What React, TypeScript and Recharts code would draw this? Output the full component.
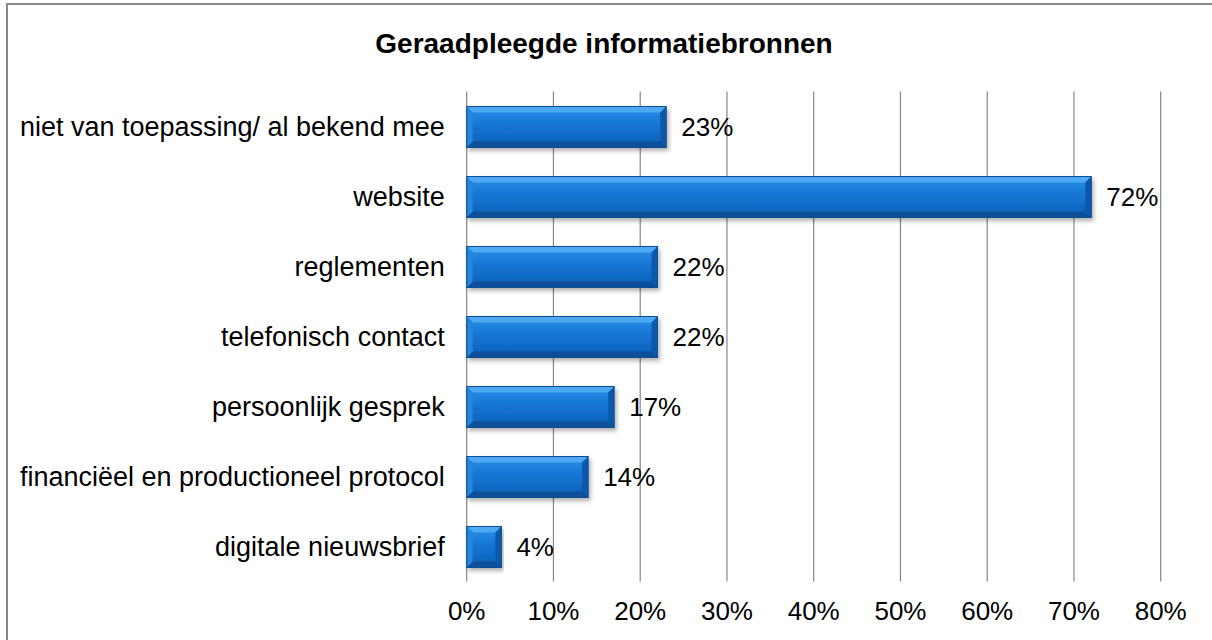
import React from "react";
import { BarChart, Bar, XAxis, YAxis, CartesianGrid, LabelList } from "recharts";

const categories = [
  "niet van toepassing/ al bekend mee",
  "website",
  "reglementen",
  "telefonisch contact",
  "persoonlijk gesprek",
  "financiëel en productioneel protocol",
  "digitale nieuwsbrief",
];
const shares = [23, 72, 22, 22, 17, 14, 4];
const xTicks = [0, 10, 20, 30, 40, 50, 60, 70, 80];

const FONT = '"Liberation Sans", Arial, sans-serif';

const data = categories.map((name, i) => ({ name, value: shares[i] }));

// bevelled bar, like the old Office chart style
function BevelBar(props: any) {
  const { x, y, width, height } = props;
  if (!width || width <= 0) return null;
  const b = Math.min(6, width / 2);
  const x2 = x + width;
  const y2 = y + height;
  return (
    <g filter="url(#barShadow)">
      <rect x={x} y={y} width={width} height={height} fill="url(#barBody)" />
      <polygon points={`${x},${y} ${x2},${y} ${x2 - b},${y + b} ${x + b},${y + b}`} fill="#4fa9f2" />
      <polygon points={`${x},${y2} ${x2},${y2} ${x2 - b},${y2 - b} ${x + b},${y2 - b}`} fill="#0a4f99" />
      <polygon points={`${x},${y} ${x + b},${y + b} ${x + b},${y2 - b} ${x},${y2}`} fill="#2386de" />
      <polygon points={`${x2},${y} ${x2 - b},${y + b} ${x2 - b},${y2 - b} ${x2},${y2}`} fill="#0b58a8" />
      <rect x={x} y={y} width={width} height={height} fill="none" stroke="#0a4d92" strokeWidth={1} />
    </g>
  );
}

export default function App() {
  return (
    <div
      style={{
        position: "fixed",
        left: 0,
        top: 0,
        width: 1212,
        height: 640,
        overflow: "hidden",
        background: "#fff",
        fontFamily: FONT,
      }}
    >
      <div
        style={{
          position: "absolute",
          left: 6,
          top: 3,
          width: 1240,
          height: 700,
          border: "2px solid #888",
        }}
      />
      <div
        style={{
          position: "absolute",
          left: 0,
          width: 1208,
          top: 28,
          textAlign: "center",
          fontSize: 28,
          fontWeight: 700,
          color: "#000",
        }}
      >
        Geraadpleegde informatiebronnen
      </div>
      <div style={{ position: "absolute", left: 0, top: 0 }}>
        <BarChart
          width={1212}
          height={640}
          data={data}
          layout="vertical"
          margin={{ top: 91.5, right: 51.3, bottom: 0, left: 0 }}
        >
          <defs>
            <linearGradient id="barBody" x1="0" y1="0" x2="0" y2="1">
              <stop offset="0%" stopColor="#2c92e8" />
              <stop offset="45%" stopColor="#1575d4" />
              <stop offset="100%" stopColor="#0c5fb6" />
            </linearGradient>
            <filter id="barShadow" x="-5%" y="-20%" width="110%" height="160%">
              <feDropShadow dx="2" dy="3" stdDeviation="2" floodColor="#000" floodOpacity="0.3" />
            </filter>
          </defs>
          <CartesianGrid horizontal={false} stroke="#868686" strokeWidth={1.2} />
          <XAxis
            type="number"
            domain={[0, 80]}
            ticks={xTicks}
            tickFormatter={(v: number) => `${v}%`}
            axisLine={false}
            tickLine={false}
            height={58.5}
            tickMargin={14}
            tick={{ fontSize: 26, fill: "#000", fontFamily: FONT }}
          />
          <YAxis
            type="category"
            dataKey="name"
            width={466.7}
            axisLine={false}
            tickLine={false}
            tickMargin={16}
            interval={0}
            tick={{ fontSize: 27, fill: "#000", fontFamily: FONT }}
          />
          <Bar dataKey="value" barSize={41} shape={<BevelBar />} isAnimationActive={false}>
            <LabelList
              dataKey="value"
              position="right"
              offset={15}
              formatter={(v: any) => `${v}%`}
              style={{ fontSize: 26, fill: "#000", fontFamily: FONT }}
            />
          </Bar>
        </BarChart>
      </div>
    </div>
  );
}
